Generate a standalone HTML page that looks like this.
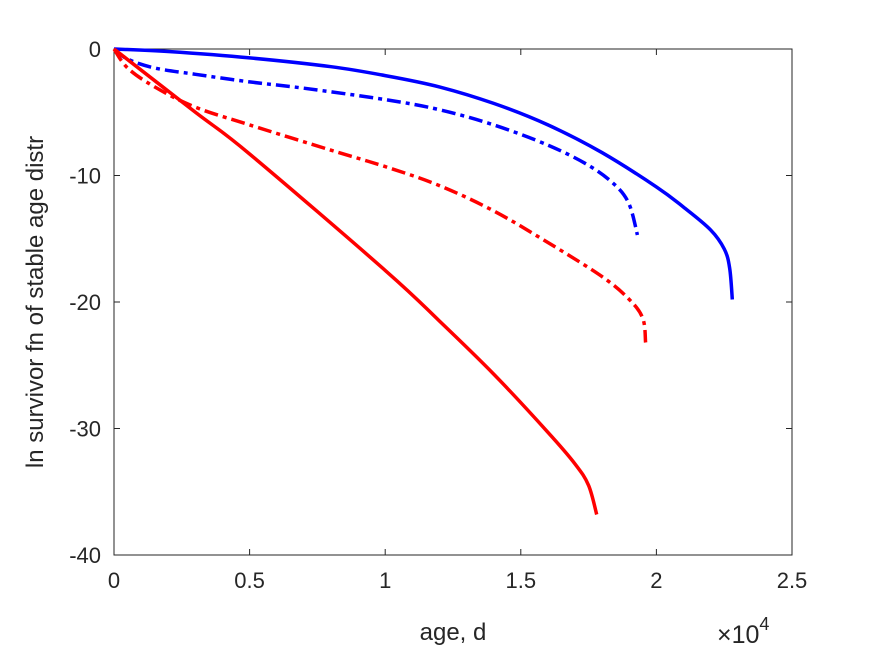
<!DOCTYPE html>
<html><head><meta charset="utf-8"><style>
body{margin:0;background:#fff}
svg text{font-family:"Liberation Sans",sans-serif;fill:#262626}
</style></head><body>
<svg width="875" height="656">
<g id="plot"></g>
</svg>
<script>
const xTicks=[0,0.5,1,1.5,2,2.5];
const xTickLabels=["0","0.5","1","1.5","2","2.5"];
const yTicks=[0,-10,-20,-30,-40];
const yTickLabels=["0","-10","-20","-30","-40"];
const blueSolidX=[0,0.2,0.5,0.8,1.0,1.2,1.4,1.6,1.8,2.0,2.1,2.2,2.25,2.27,2.28];
const blueSolidY=[0,-0.2,-0.7,-1.4,-2.1,-3.0,-4.3,-6.0,-8.2,-10.9,-12.5,-14.3,-15.8,-17.3,-19.8];
const blueDashX=[0,0.05,0.15,0.3,0.5,0.7,1.0,1.2,1.4,1.6,1.75,1.85,1.9,1.93];
const blueDashY=[0,-0.8,-1.5,-2.0,-2.6,-3.1,-4.0,-4.8,-6.0,-7.6,-9.2,-10.8,-12.3,-14.7];
const redSolidX=[0,0.3,0.5,1.0,1.2,1.4,1.6,1.7,1.75,1.78];
const redSolidY=[0,-5.0,-8.3,-17.5,-21.5,-25.7,-30.3,-32.8,-34.5,-36.8];
const redDashX=[0,0.05,0.15,0.3,0.5,0.8,1.0,1.2,1.4,1.6,1.8,1.9,1.95,1.96];
const redDashY=[0,-1.5,-3.0,-4.6,-6.0,-8.0,-9.3,-10.8,-12.8,-15.3,-18.0,-19.8,-21.3,-23.2];
const L=114,R=792,T=49,B=555;
const sx=v=>L+(v-0)/(2.5)*(R-L);
const sy=v=>T+(0-v)/40*(B-T);
const NS="http://www.w3.org/2000/svg";
const g=document.getElementById('plot');
function mk(tag,attrs){const e=document.createElementNS(NS,tag);for(const k in attrs)e.setAttribute(k,attrs[k]);g.appendChild(e);return e;}
let e=mk('rect',{x:L,y:T,width:R-L,height:B-T,fill:'none',stroke:'#262626','stroke-width':1});


xTicks.forEach((t,i)=>{
 let l=mk('path',{d:`M${sx(t)},${B}v-6M${sx(t)},${T}v6`,stroke:'#262626'});
 
 
 let tx=mk('text',{x:sx(t),y:B+33,'text-anchor':'middle','font-size':22});
 tx.textContent=xTickLabels[i];
 
 
});
yTicks.forEach((t,i)=>{
 let l=mk('path',{d:`M${L},${sy(t)}h6M${R},${sy(t)}h-6`,stroke:'#262626'});
 
 
 let tx=mk('text',{x:L-13,y:sy(t)+8,'text-anchor':'end','font-size':22});
 tx.textContent=yTickLabels[i];
 
 
});
function series(xs,ys,color,dash,name){
 const P=xs.map((x,i)=>[sx(x),sy(ys[i])]);
 let d='M'+P[0][0].toFixed(1)+','+P[0][1].toFixed(1);
 for(let i=0;i<P.length-1;i++){
  const p0=P[Math.max(0,i-1)],p1=P[i],p2=P[i+1],p3=P[Math.min(P.length-1,i+2)];
  const c1=[p1[0]+(p2[0]-p0[0])/6,p1[1]+(p2[1]-p0[1])/6];
  const c2=[p2[0]-(p3[0]-p1[0])/6,p2[1]-(p3[1]-p1[1])/6];
  d+=`C${c1[0].toFixed(1)},${c1[1].toFixed(1)} ${c2[0].toFixed(1)},${c2[1].toFixed(1)} ${p2[0].toFixed(1)},${p2[1].toFixed(1)}`;
 }
 const p=mk('path',{d:d,fill:'none',stroke:color,'stroke-width':3.5,'stroke-linejoin':'round'});
 if(dash)p.setAttribute('stroke-dasharray','14,5,4,5');
 
 
}
series(blueSolidX,blueSolidY,'#0000ff',false,'blue-solid-line');
series(blueDashX,blueDashY,'#0000ff',true,'blue-dashdot-line');
series(redSolidX,redSolidY,'#ff0000',false,'red-solid-line');
series(redDashX,redDashY,'#ff0000',true,'red-dashdot-line');
let xl=mk('text',{x:453,y:640,'text-anchor':'middle','font-size':24});
xl.textContent='age, d';


let ex=mk('text',{x:717,y:643,'font-size':25});
ex.innerHTML='×10<tspan dy="-13" font-size="18">4</tspan>';


let yl=mk('text',{x:0,y:0,'text-anchor':'middle','font-size':24,transform:`translate(43,${(T+B)/2}) rotate(-90)`});
yl.textContent='ln survivor fn of stable age distr';


</script>
</body></html>
